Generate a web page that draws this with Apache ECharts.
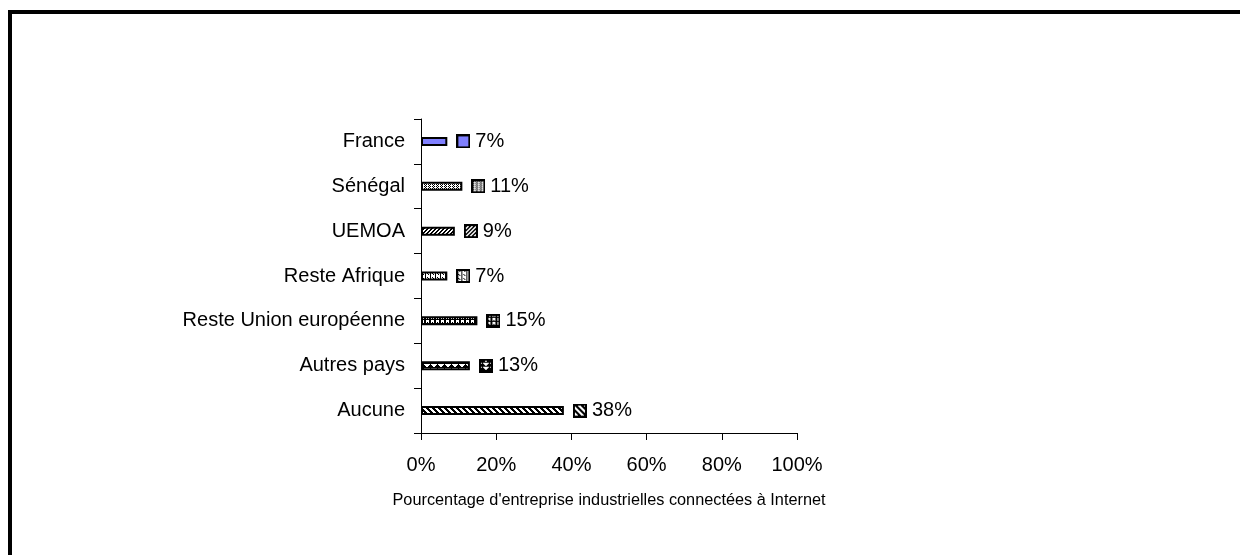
<!DOCTYPE html>
<html>
<head>
<meta charset="utf-8">
<title>Connexion à Internet</title>
<script src="https://cdn.jsdelivr.net/npm/echarts@6/dist/echarts.min.js"></script>
<style>
  html, body { margin: 0; padding: 0; background: #fff; }
  #chart { width: 1240px; height: 555px; }
</style>
</head>
<body>
<div id="chart"></div>
<script>
// Pays de connexion des entreprises industrielles
const categories = ['France', 'Sénégal', 'UEMOA', 'Reste Afrique', 'Reste Union européenne', 'Autres pays', 'Aucune'];
// Part des entreprises (%)
const shares = [7, 11, 9, 7, 15, 13, 38];

const FONT = '"Liberation Sans", Arial, sans-serif';

// --- small fill tiles (black & white hatchings) ---
function tile(w, h, draw) {
  const c = document.createElement('canvas');
  c.width = w; c.height = h;
  const g = c.getContext('2d');
  g.fillStyle = '#fff';
  g.fillRect(0, 0, w, h);
  g.fillStyle = '#000';
  draw(g, w, h);
  return c;
}
const px = (g, x, y) => g.fillRect(x, y, 1, 1);

const fills = [
  // bleu uni
  () => '#8080ff',
  // gris pointillé
  () => tile(4, 2, g => {
    px(g, 0, 0); px(g, 2, 0); px(g, 1, 1);
  }),
  // diagonales serrées ondulées
  () => tile(4, 4, g => {
    for (let i = 0; i < 4; i++) { px(g, i, 3 - i); px(g, (i + 1) % 4, 3 - i); }
    px(g, 0, 0);
  }),
  // petits carreaux
  () => tile(5, 4, g => {
    g.fillRect(0, 0, 1, 4);
    px(g, 2, 1); px(g, 3, 2);
  }),
  // motif sombre à taches blanches
  () => tile(5, 4, g => {
    g.fillRect(0, 0, 5, 4);
    g.fillStyle = '#fff';
    g.fillRect(1, 0, 3, 2); px(g, 1, 2); px(g, 3, 2);
  }),
  // triangles
  () => tile(7, 4, g => {
    px(g, 3, 0);
    g.fillRect(2, 1, 3, 1);
    g.fillRect(1, 2, 5, 1);
    g.fillRect(0, 3, 7, 1);
  }),
  // larges rayures diagonales
  () => tile(6, 6, g => {
    for (let i = 0; i < 6; i++) {
      for (let k = 0; k < 3; k++) px(g, (i + k) % 6, i);
    }
  })
];

// Legend key drawn as a bordered square filled with the same hatching
function keyCanvas(i) {
  const s = 14;
  const c = document.createElement('canvas');
  c.width = s; c.height = s;
  const g = c.getContext('2d');
  const f = fills[i]();
  g.fillStyle = typeof f === 'string' ? f : g.createPattern(f, 'repeat');
  g.fillRect(0, 0, s, s);
  g.strokeStyle = '#000';
  g.lineWidth = 2;
  g.strokeRect(1, 1, s - 2, s - 2);
  return c;
}

const rich = {
  v: { fontFamily: FONT, fontSize: 20, color: '#000', padding: [0, 0, 0, 5] }
};
categories.forEach((_, i) => {
  rich['k' + i] = { width: 14, height: 14, backgroundColor: { image: keyCanvas(i) } };
});

const barData = shares.map((v, i) => {
  const f = fills[i]();
  return {
    value: v,
    itemStyle: {
      color: typeof f === 'string' ? f : { image: f, repeat: 'repeat' },
      borderColor: '#000',
      borderWidth: 2
    }
  };
});

const chart = echarts.init(document.getElementById('chart'), null, { renderer: 'canvas' });
chart.setOption({
  backgroundColor: '#fff',
  animation: false,
  textStyle: { fontFamily: FONT },
  grid: { left: 421, top: 119, width: 376, height: 314, containLabel: false },
  xAxis: {
    type: 'value',
    min: 0,
    max: 100,
    interval: 20,
    axisLine: { show: true, lineStyle: { color: '#000', width: 1 } },
    axisTick: { show: true, length: 7, lineStyle: { color: '#000' } },
    splitLine: { show: false },
    axisLabel: { formatter: '{value}%', color: '#000', fontSize: 20, fontFamily: FONT, margin: 22 },
    name: "Pourcentage d'entreprise industrielles connectées à Internet",
    nameLocation: 'middle',
    nameGap: 60,
    nameTextStyle: { color: '#000', fontSize: 16.3, fontFamily: FONT }
  },
  yAxis: {
    type: 'category',
    inverse: true,
    data: categories,
    axisLine: { show: true, lineStyle: { color: '#000', width: 1 } },
    axisTick: { show: true, length: 7, lineStyle: { color: '#000' } },
    axisLabel: { color: '#000', fontSize: 20, fontFamily: FONT, margin: 16 }
  },
  series: [{
    type: 'bar',
    data: barData,
    barWidth: 9,
    label: {
      show: true,
      position: 'right',
      distance: 9,
      formatter: p => '{k' + p.dataIndex + '|}{v|' + p.value + '%}',
      rich: rich
    }
  }],
  graphic: [{
    type: 'rect',
    silent: true,
    shape: { x: 10, y: 12, width: 1400, height: 700 },
    style: { fill: null, stroke: '#000', lineWidth: 4 }
  }]
});
</script>
</body>
</html>
